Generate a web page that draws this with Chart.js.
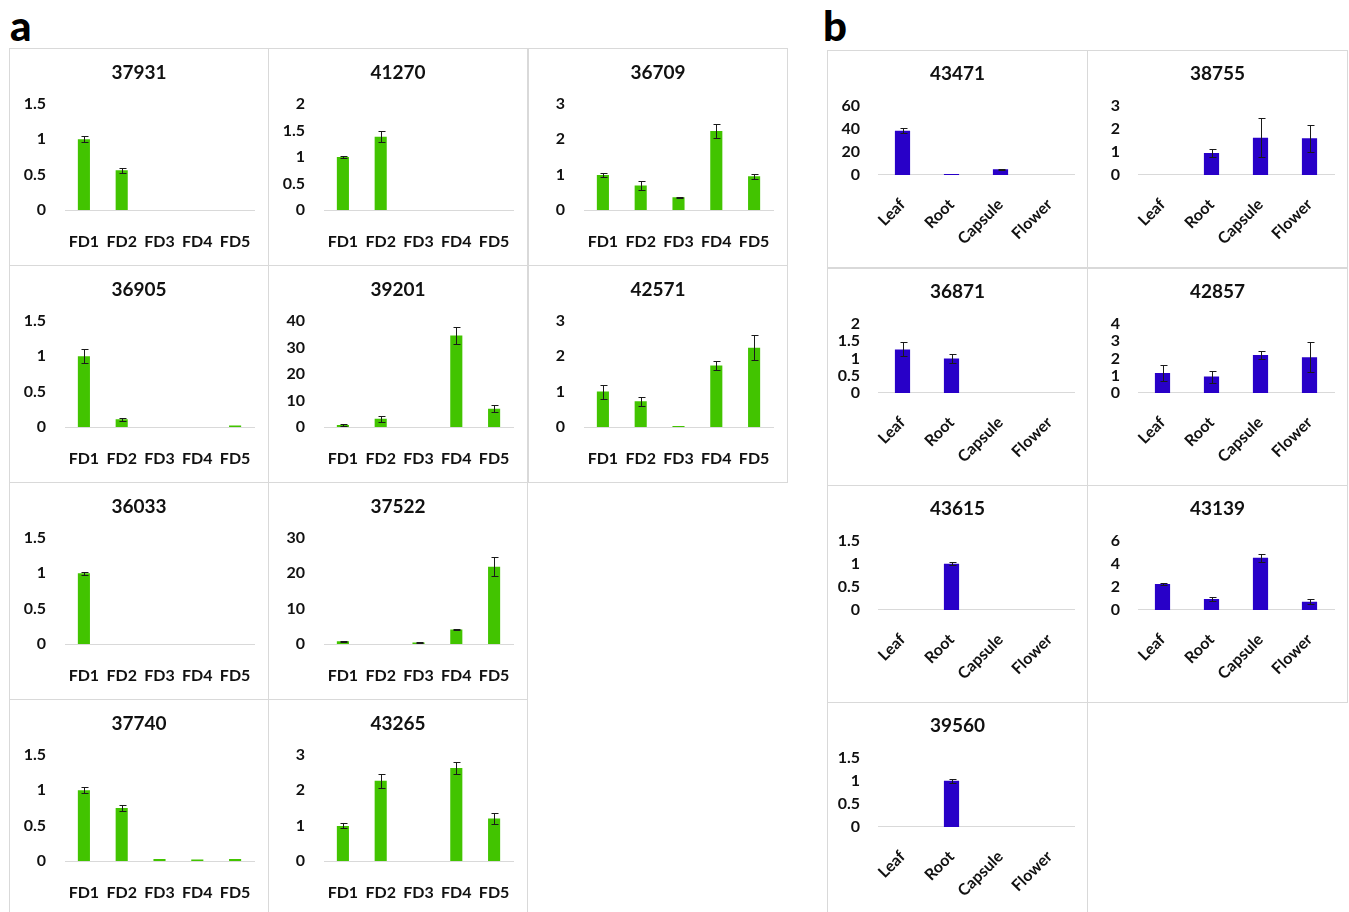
<!DOCTYPE html>
<html lang="en">
<head>
<meta charset="UTF-8">
<title>Relative expression</title>
<script src="https://cdn.jsdelivr.net/npm/chart.js"></script>
<style>
    body { margin: 0; background: #fff; }
    .page { position: relative; width: 1349px; height: 912px; overflow: hidden; }
    .tag { position: absolute; font: 900 42px Lato, sans-serif; line-height: 1; color: #000; }
    .panel { position: absolute; border: 1px solid #d9d9d9; box-sizing: border-box; overflow: hidden; }
    .panel canvas { position: absolute; left: -1px; top: -1px; }
</style>
</head>
<body>
<div class="page" id="page">
    <div class="tag" style="left:10px; top:4px;">a</div>
    <div class="tag" style="left:823px; top:4px;">b</div>
</div>

<script>
// categories
const fdLabels = ['FD1', 'FD2', 'FD3', 'FD4', 'FD5'];
const tissueLabels = ['Leaf', 'Root', 'Capsule', 'Flower'];

// panel a: values and error bars
const fd37931 = [1.0, 0.56, 0, 0, 0];        const fd37931Err = [0.04, 0.04, 0, 0, 0];
const fd41270 = [1.0, 1.38, 0, 0, 0];        const fd41270Err = [0.02, 0.1, 0, 0, 0];
const fd36709 = [0.99, 0.69, 0.36, 2.23, 0.95]; const fd36709Err = [0.05, 0.13, 0.02, 0.2, 0.07];
const fd36905 = [1.0, 0.11, 0, 0, 0.02];     const fd36905Err = [0.1, 0.02, 0, 0, 0];
const fd39201 = [0.75, 3.1, 0, 34.5, 6.9];   const fd39201Err = [0.2, 1.1, 0, 3.2, 1.2];
const fd42571 = [1.0, 0.73, 0.03, 1.74, 2.24]; const fd42571Err = [0.2, 0.13, 0, 0.12, 0.35];
const fd36033 = [1.0, 0, 0, 0, 0];           const fd36033Err = [0.02, 0, 0, 0, 0];
const fd37522 = [0.75, 0, 0.45, 4.1, 21.8];  const fd37522Err = [0.2, 0, 0.1, 0.05, 2.7];
const fd37740 = [1.0, 0.75, 0.03, 0.02, 0.03]; const fd37740Err = [0.04, 0.04, 0, 0, 0];
const fd43265 = [0.99, 2.27, 0, 2.63, 1.2];  const fd43265Err = [0.07, 0.2, 0, 0.16, 0.15];

// panel b: values and error bars
const ts43471 = [38.3, 0.9, 4.9, 0];         const ts43471Err = [2.3, 0, 0.5, 0];
const ts38755 = [0, 0.95, 1.62, 1.59];       const ts38755Err = [0, 0.16, 0.86, 0.58];
const ts36871 = [1.26, 1.0, 0, 0];           const ts36871Err = [0.2, 0.13, 0, 0];
const ts42857 = [1.16, 0.95, 2.19, 2.07];    const ts42857Err = [0.47, 0.35, 0.24, 0.86];
const ts43615 = [0, 1.0, 0, 0];              const ts43615Err = [0, 0.03, 0, 0];
const ts43139 = [2.25, 0.95, 4.53, 0.72];    const ts43139Err = [0.07, 0.18, 0.36, 0.2];
const ts39560 = [0, 1.0, 0, 0];              const ts39560Err = [0, 0.04, 0, 0];

// y axis ranges (max, step)
const yMaxA = [1.5, 2, 3, 1.5, 40, 3, 1.5, 30, 1.5, 3];
const yStepA = [0.5, 0.5, 1, 0.5, 10, 1, 0.5, 10, 0.5, 1];
const yMaxB = [60, 3, 2, 4, 1.5, 6, 1.5];
const yStepB = [20, 1, 0.5, 1, 0.5, 2, 0.5];

const panelsA = [
    ['37931', fd37931, fd37931Err, 9, 48],
    ['41270', fd41270, fd41270Err, 268, 48],
    ['36709', fd36709, fd36709Err, 528, 48],
    ['36905', fd36905, fd36905Err, 9, 265],
    ['39201', fd39201, fd39201Err, 268, 265],
    ['42571', fd42571, fd42571Err, 528, 265],
    ['36033', fd36033, fd36033Err, 9, 482],
    ['37522', fd37522, fd37522Err, 268, 482],
    ['37740', fd37740, fd37740Err, 9, 699],
    ['43265', fd43265, fd43265Err, 268, 699]
];
const panelsB = [
    ['43471', ts43471, ts43471Err, 827, 50],
    ['38755', ts38755, ts38755Err, 1087, 50],
    ['36871', ts36871, ts36871Err, 827, 268],
    ['42857', ts42857, ts42857Err, 1087, 268],
    ['43615', ts43615, ts43615Err, 827, 485],
    ['43139', ts43139, ts43139Err, 1087, 485],
    ['39560', ts39560, ts39560Err, 827, 702]
];

Chart.defaults.font.family = 'Lato, "Open Sans", sans-serif';
Chart.defaults.font.weight = 'bold';
Chart.defaults.font.size = 16;
Chart.defaults.color = '#111';

// error bars drawn over the bars
const errorBars = {
    id: 'errorBars',
    afterDatasetsDraw(chart) {
        const ds = chart.data.datasets[0];
        const meta = chart.getDatasetMeta(0);
        const y = chart.scales.y;
        const ctx = chart.ctx;
        ctx.save();
        ctx.strokeStyle = '#1a1a1a';
        ctx.lineWidth = 1;
        meta.data.forEach((bar, i) => {
            const e = ds.errors[i];
            if (!e) return;
            const v = ds.data[i];
            const x = Math.round(bar.x) + 0.5;
            const top = Math.round(y.getPixelForValue(v + e)) + 0.5;
            const bot = Math.round(y.getPixelForValue(Math.max(v - e, 0))) + 0.5;
            ctx.beginPath();
            ctx.moveTo(x, top); ctx.lineTo(x, bot);
            ctx.moveTo(x - 3, top); ctx.lineTo(x + 4, top);
            ctx.moveTo(x - 3, bot); ctx.lineTo(x + 4, bot);
            ctx.stroke();
        });
        ctx.restore();
    }
};

function noPad(s) {
    s.paddingLeft = 0; s.paddingRight = 0; s.paddingTop = 0; s.paddingBottom = 0;
}

function makePanel(p, labels, yMax, yStep, color, g) {
    const [title, vals, errs, left, top] = p;
    const box = document.createElement('div');
    box.className = 'panel';
    box.style.left = left + 'px';
    box.style.top = top + 'px';
    box.style.width = g.w + 'px';
    box.style.height = g.h + 'px';
    const cv = document.createElement('canvas');
    cv.width = g.w;
    cv.height = g.h;
    box.appendChild(cv);
    document.getElementById('page').appendChild(box);

    new Chart(cv, {
        type: 'bar',
        data: {
            labels: labels,
            datasets: [{
                data: vals,
                errors: errs,
                backgroundColor: color,
                borderWidth: 0,
                barPercentage: g.bar,
                categoryPercentage: 1
            }]
        },
        options: {
            responsive: false,
            animation: false,
            layout: { padding: 0 },
            plugins: {
                legend: { display: false },
                tooltip: { enabled: false },
                title: {
                    display: true,
                    text: title,
                    color: '#111',
                    font: { size: 19, weight: 'bold' },
                    padding: { top: g.titleTop, bottom: g.titleBottom }
                }
            },
            scales: {
                x: {
                    grid: { display: false, drawTicks: false },
                    border: { display: true, color: '#d9d9d9', width: 1 },
                    ticks: {
                        padding: g.xPad,
                        autoSkip: false,
                        minRotation: g.rot,
                        maxRotation: g.rot
                    },
                    afterFit: s => { s.height = g.xH; noPad(s); }
                },
                y: {
                    min: 0,
                    max: yMax,
                    grid: { display: false, drawTicks: false },
                    border: { display: false },
                    ticks: {
                        stepSize: yStep,
                        autoSkip: false,
                        padding: g.yPad,
                        callback: v => String(+v.toFixed(2))
                    },
                    afterFit: s => { s.width = g.yW; noPad(s); }
                },
                // empty right margin so the title stays centred on the panel
                side: {
                    position: 'right',
                    display: true,
                    grid: { display: false, drawTicks: false },
                    border: { display: false },
                    ticks: { display: false },
                    afterFit: s => { s.width = g.right; noPad(s); }
                }
            }
        },
        plugins: [errorBars]
    });
}

const geomA = { w: 260, h: 218, right: 15, titleTop: 13, titleBottom: 20, xPad: 22, xH: 56, yW: 56, yPad: 19, bar: 0.32, rot: 0 };
const geomB = { w: 261, h: 218, right: 14, titleTop: 12, titleBottom: 21, xPad: 20, xH: 93, yW: 51, yPad: 18, bar: 0.31, rot: 45 };

panelsA.forEach((p, i) => makePanel(p, fdLabels, yMaxA[i], yStepA[i], '#42c400', geomA));
panelsB.forEach((p, i) => makePanel(p, tissueLabels, yMaxB[i], yStepB[i], '#2800c8', geomB));
</script>
</body>
</html>
